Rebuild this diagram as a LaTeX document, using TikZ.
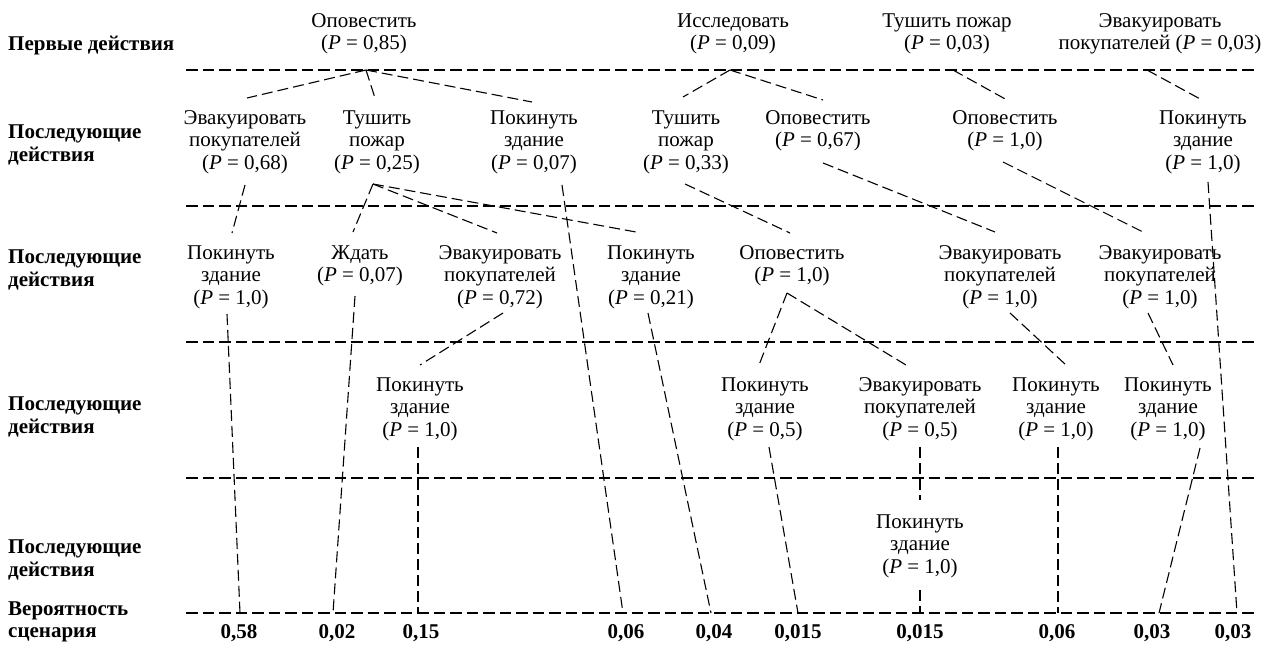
\documentclass[tikz,border=0pt]{standalone}
\usepackage{fontspec}
\setmainfont{Liberation Serif}
\newcommand\conline[6]{\draw[conn] ([xshift=#2pt,yshift=#3pt]#1.center) -- ([xshift=#5pt,yshift=#6pt]#4.center);}
\newcommand\PP[1]{(\textit{P} = #1)}
\begin{document}
\begin{tikzpicture}[x=1pt,y=-1pt,
  lbl/.style={align=center, inner sep=0pt, font=\fontsize{21}{22.5}\selectfont},
  side/.style={align=left, anchor=west, inner sep=0pt, font=\fontsize{21}{22.5}\selectfont\bfseries},
  val/.style={inner sep=0pt, font=\fontsize{21}{22}\selectfont\bfseries},
  divline/.style={dash pattern=on 11.5pt off 5pt, line width=1.1pt},
  conn/.style={dash pattern=on 11pt off 5pt, line width=1.1pt}]
\useasboundingbox (0,0) rectangle (1261,648);
% dividers
\foreach \yy in {70,206,342,478,613} \draw[divline] (186,\yy) -- (1256,\yy);
% side labels
\node[side] (s0) at (8,46) {Первые действия};
\node[side] (s1) at (8,145) {Последующие\\действия};
\node[side] (s2) at (8,270) {Последующие\\действия};
\node[side] (s3) at (8,417) {Последующие\\действия};
\node[side] (s4) at (8,560) {Последующие\\действия};
\node[side] (s5) at (8,622) {Вероятность\\сценария};
% level 0
\node[lbl] (o1) at (364,34) {Оповестить\\\PP{0,85}};
\node[lbl] (o2) at (733,34) {Исследовать\\\PP{0,09}};
\node[lbl] (o3) at (947,34) {Тушить пожар\\\PP{0,03}};
\node[lbl] (o4) at (1160,34) {Эвакуировать\\покупателей \PP{0,03}};
\coordinate (p1) at (366,70);
\coordinate (p2) at (730,70);
\coordinate (p3) at (953,70);
\coordinate (p4) at (1147,70);
% level 1
\node[lbl] (a1) at (245,142) {Эвакуировать\\покупателей\\\PP{0,68}};
\node[lbl] (a2) at (377,142) {Тушить\\пожар\\\PP{0,25}};
\node[lbl] (a3) at (534,142) {Покинуть\\здание\\\PP{0,07}};
\node[lbl] (a4) at (686,142) {Тушить\\пожар\\\PP{0,33}};
\node[lbl] (a5) at (818,131) {Оповестить\\\PP{0,67}};
\node[lbl] (a6) at (1005,131) {Оповестить\\\PP{1,0}};
\node[lbl] (a7) at (1203,142) {Покинуть\\здание\\\PP{1,0}};
% level 2
\node[lbl] (b1) at (231,277) {Покинуть\\здание\\\PP{1,0}};
\node[lbl] (b2) at (360,266) {Ждать\\\PP{0,07}};
\node[lbl] (b3) at (500,277) {Эвакуировать\\покупателей\\\PP{0,72}};
\node[lbl] (b4) at (651,277) {Покинуть\\здание\\\PP{0,21}};
\node[lbl] (b5) at (792,266) {Оповестить\\\PP{1,0}};
\node[lbl] (b6) at (1000,277) {Эвакуировать\\покупателей\\\PP{1,0}};
\node[lbl] (b7) at (1160,277) {Эвакуировать\\покупателей\\\PP{1,0}};
% level 3
\node[lbl] (c1) at (420,409) {Покинуть\\здание\\\PP{1,0}};
\node[lbl] (c2) at (765,409) {Покинуть\\здание\\\PP{0,5}};
\node[lbl] (c3) at (920,409) {Эвакуировать\\покупателей\\\PP{0,5}};
\node[lbl] (c4) at (1056,409) {Покинуть\\здание\\\PP{1,0}};
\node[lbl] (c5) at (1168,409) {Покинуть\\здание\\\PP{1,0}};
% level 4
\node[lbl] (d1) at (920,546) {Покинуть\\здание\\\PP{1,0}};
% values
\node[val] (v1) at (239,633) {0,58};
\node[val] (v2) at (337,633) {0,02};
\node[val] (v3) at (421,633) {0,15};
\node[val] (v4) at (626,633) {0,06};
\node[val] (v5) at (714,633) {0,04};
\node[val] (v6) at (798,633) {0,015};
\node[val] (v7) at (920,633) {0,015};
\node[val] (v8) at (1057,633) {0,06};
\node[val] (v9) at (1152,633) {0,03};
\node[val] (v10) at (1233,633) {0,03};
% connectors level 0 -> 1
\conline{p1}{0}{0}{a1}{2}{44}
\conline{p1}{0}{0}{a2}{-2}{44}
\conline{p1}{0}{0}{a3}{-2}{40}
\conline{p2}{0}{0}{a4}{-3}{45}
\conline{p2}{0}{0}{a5}{5}{31}
\conline{p3}{0}{0}{a6}{2}{31}
\conline{p4}{0}{0}{a7}{-1}{42}
% level 1 -> 2
\conline{a1}{0}{-43}{b1}{1}{44}
\conline{a2}{-4}{-42}{b2}{-7}{34}
\conline{a2}{-4}{-42}{b3}{-3}{44}
\conline{a2}{-4}{-42}{b4}{-15}{45}
\conline{a3}{28}{-43}{v4}{-3}{20}
\conline{a4}{-1}{-42}{b5}{-2}{33}
\conline{a5}{5}{-32}{b6}{-5}{45}
\conline{a6}{-2}{-31}{b7}{-15}{44}
\conline{a7}{5}{-40}{v10}{4}{20}
% level 2 -> 3
\conline{b1}{-4}{-37}{v1}{1}{20}
\conline{b2}{-5}{-30}{v2}{-4}{20}
\conline{b3}{3}{-36}{c1}{0}{44}
\conline{b4}{-3}{-36}{v5}{-3}{20}
\conline{b5}{-5}{-27}{c2}{-6}{44}
\conline{b5}{-5}{-27}{c3}{-14}{44}
\conline{b6}{10}{-36}{c4}{10}{44}
\conline{b7}{-12}{-36}{c5}{5}{44}
% level 3 -> values
\conline{c1}{-2}{-38}{v3}{-3}{20}
\conline{c2}{4}{-38}{v6}{0}{20}
\conline{c3}{0}{-38}{d1}{0}{46}
\conline{d1}{0}{-44}{v7}{0}{20}
\conline{c4}{2}{-38}{v8}{1}{20}
\conline{c5}{32}{-39}{v9}{7}{20}
\end{tikzpicture}
\end{document}
